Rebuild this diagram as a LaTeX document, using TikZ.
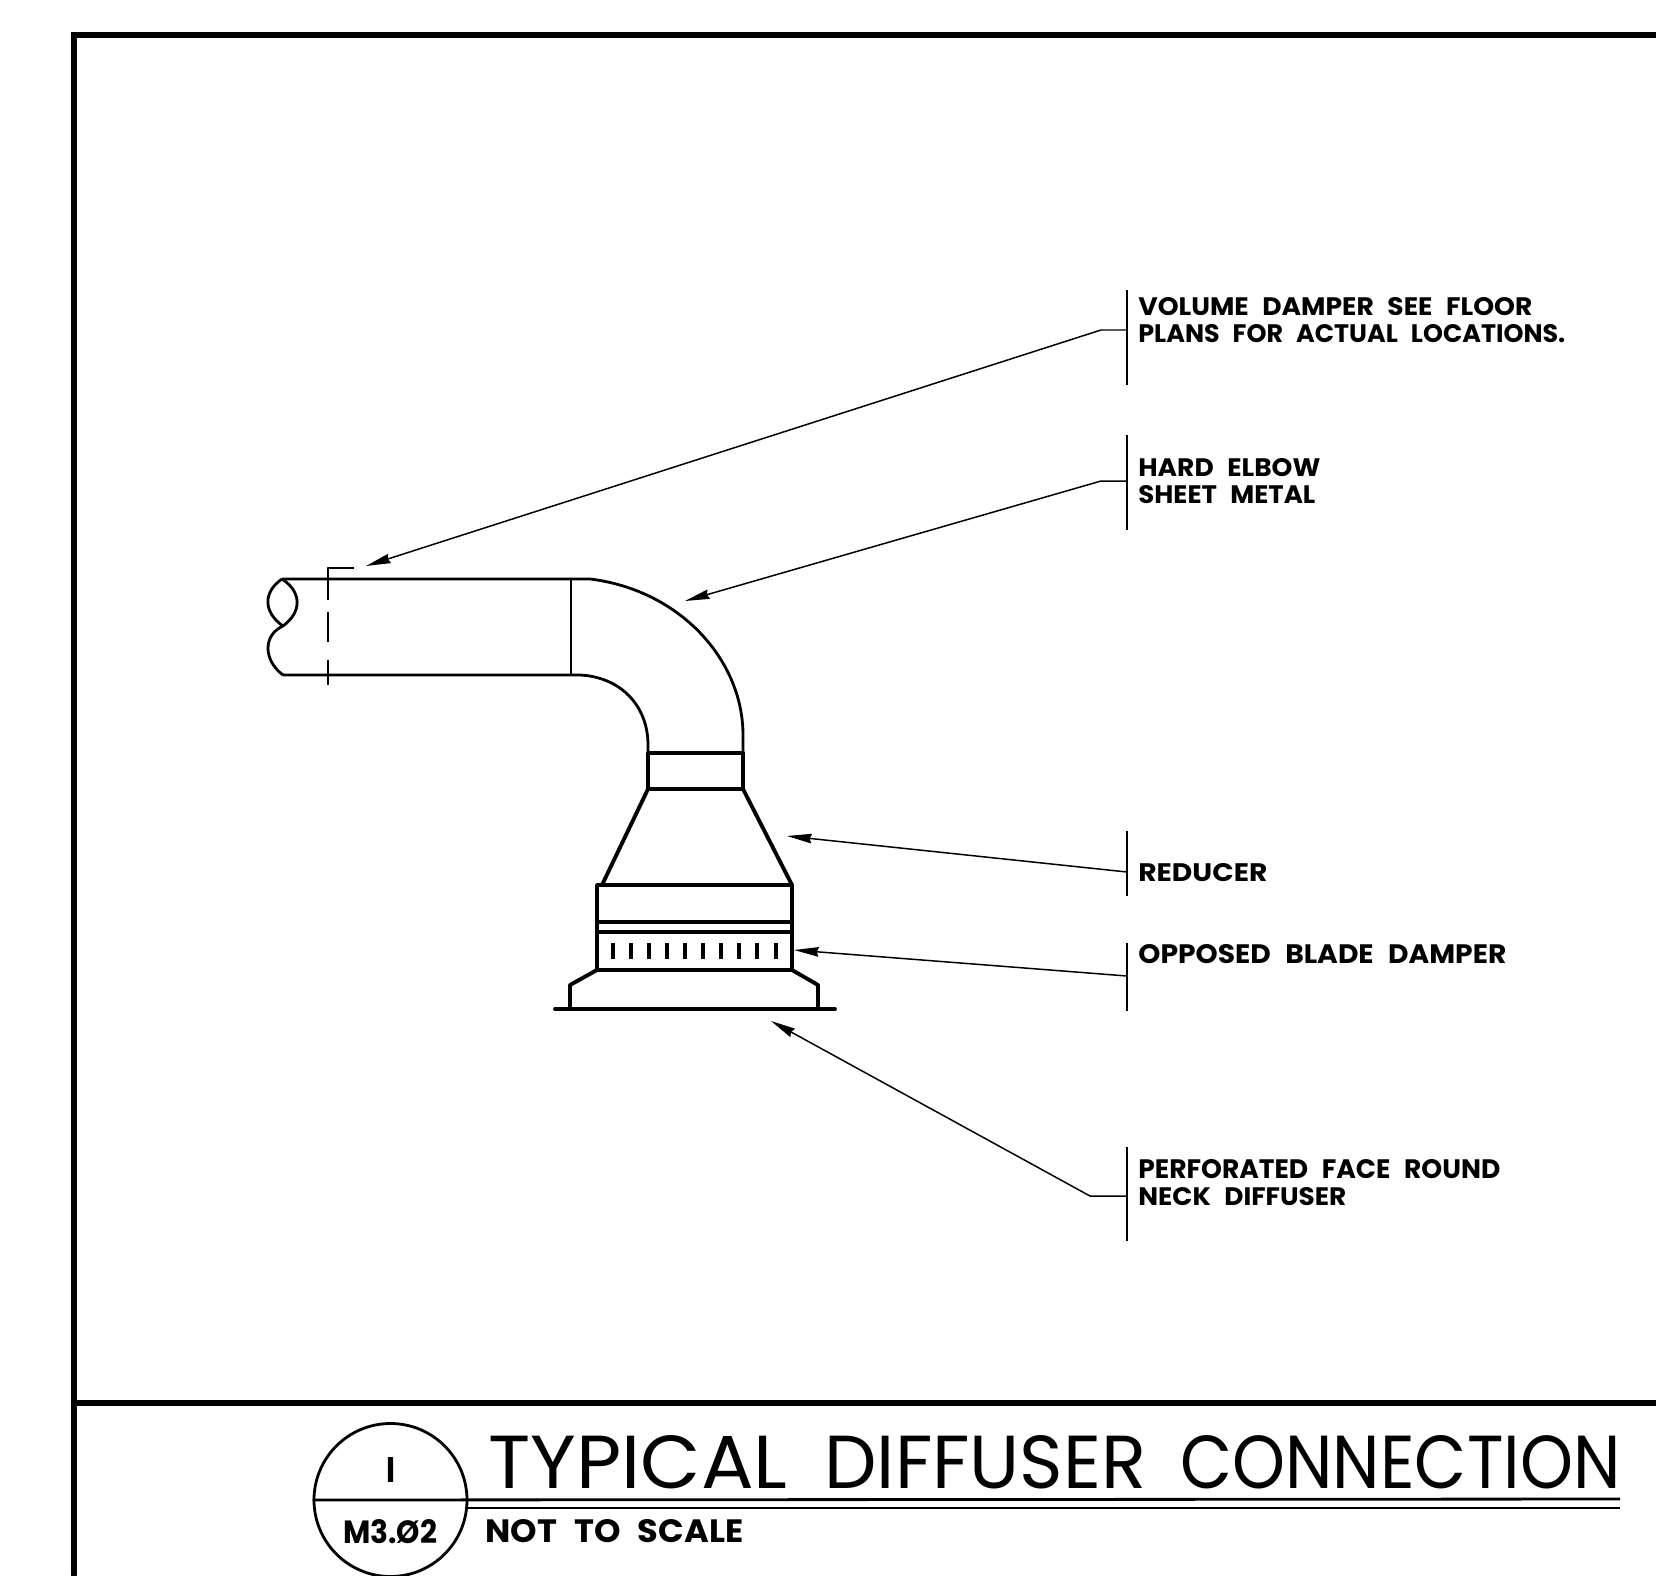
\documentclass[tikz,border=0pt]{standalone}
\usepackage{graphicx}
\usepackage{fontspec}
\setmainfont{Poppins}
\usetikzlibrary{arrows.meta}
\newlength\pxu
\setlength\pxu{0.02cm}
\newcommand{\fitline}[3]{\resizebox{#1\pxu}{#2\pxu}{#3}}
\newcommand{\wgap}{\hspace{0.3em}}
\tikzset{
  frameline/.style={line width=3pt,line cap=round},
  duct/.style={line width=1.6pt,line join=round},
  heavy/.style={line width=2.2pt,line join=round},
  thinline/.style={line width=0.9pt},
  leader/.style={line width=0.85pt,-{Stealth[length=14pt,width=5.4pt,inset=1pt]}},
  note/.style={anchor=north west,inner sep=0pt,align=left,font=\bfseries\fontsize{9.7pt}{15.4pt}\selectfont},
  plain/.style={inner sep=0pt}
}
\begin{document}
\begin{tikzpicture}[x=0.02cm,y=-0.02cm]
\useasboundingbox (0,0) rectangle (1656,1575);
\clip (0,0) rectangle (1656,1575);
% sheet frame
\coordinate (frameTR) at (1656,35);
\coordinate (frameTL) at (74,35);
\coordinate (frameBL) at (74,1575);
\coordinate (ruleL) at (74,1403);
\coordinate (ruleR) at (1656,1403);
\draw[frameline] (frameTR) -- (frameTL) -- (frameBL);
\draw[frameline] (ruleL) -- (ruleR);
% duct
\draw[duct] (282,579) -- (590,579) .. controls (680,590) and (743,660) .. (743,735) -- (743,753);
\draw[duct] (283,675) -- (580,675) .. controls (620,677) and (648,705) .. (648,745) -- (648,753);
\draw[duct] (282,579) .. controls (263,592) and (263,612) .. (283,626)
                      .. controls (302,612) and (302,592) .. (282,579);
\draw[duct] (283,626) .. controls (263,635) and (263,660) .. (283,675);
\draw[duct] (571,579) -- (571,675);
% volume damper
\draw[duct] (354,568) -- (328,568) -- (328,600);
\draw[duct] (328,612) -- (328,642);
\draw[duct] (328,660) -- (328,685);
% collar
\draw[heavy] (648,753) rectangle (743,789);
% reducer
\draw[heavy] (648,789) -- (602,885);
\draw[heavy] (743,789) -- (792,885);
% damper box
\draw[heavy] (597,885) rectangle (792,970);
\draw[heavy] (597,922) -- (792,922);
\draw[heavy] (597,932) -- (792,932);
\foreach \tx in {613,631,649,667,685,703,721,739,757,776}
  \draw[heavy] (\tx,943) -- (\tx,959);
% diffuser
\draw[heavy] (597,970) -- (570,985) -- (570,1009);
\draw[heavy] (792,970) -- (818,985) -- (818,1009);
\draw[heavy,line cap=round] (555,1009) -- (835,1009);
% notes
\node[note] (n1) at (1138,297) {\fitline{394}{18}{VOLUME\wgap{} DAMPER\wgap{} SEE\wgap{} FLOOR}\\\fitline{427}{18}{PLANS\wgap{} FOR\wgap{} ACTUAL\wgap{} LOCATIONS.}};
\node[note] (n2) at (1138,458) {\fitline{182}{18}{HARD\wgap{} ELBOW}\\\fitline{177}{18}{SHEET\wgap{} METAL}};
\node[note] (n3) at (1138,863) {\fitline{129}{18}{REDUCER}};
\node[note] (n4) at (1138,944) {\fitline{368}{19}{OPPOSED\wgap{} BLADE\wgap{} DAMPER}};
\node[note] (n5) at (1138,1159) {\fitline{362}{19}{PERFORATED\wgap{} FACE\wgap{} ROUND}\\\fitline{208}{18}{NECK\wgap{} DIFFUSER}};
% note bars
\coordinate (b1t) at (1127,290); \coordinate (b1b) at (1127,385);
\coordinate (b2t) at (1127,435); \coordinate (b2b) at (1127,530);
\coordinate (b3t) at (1127,831); \coordinate (b3b) at (1127,896);
\coordinate (b4t) at (1127,943); \coordinate (b4b) at (1127,1011);
\coordinate (b5t) at (1127,1147); \coordinate (b5b) at (1127,1241);
\foreach \k in {1,...,5} \draw[thinline] (b\k t) -- (b\k b);
% leaders
\coordinate (l1) at (1127,330); \coordinate (e1) at (1101,330); \coordinate (t1) at (366,566);
\coordinate (l2) at (1127,481); \coordinate (e2) at (1101,481); \coordinate (t2) at (685,601);
\coordinate (l3) at (1127,872); \coordinate (t3) at (787,836);
\coordinate (l4) at (1127,976); \coordinate (t4) at (794,950);
\coordinate (l5) at (1127,1196); \coordinate (e5) at (1090,1196); \coordinate (t5) at (771,1021);
\draw[leader] (l1) -- (e1) -- (t1);
\draw[leader] (l2) -- (e2) -- (t2);
\draw[leader] (l3) -- (t3);
\draw[leader] (l4) -- (t4);
\draw[leader] (l5) -- (e5) -- (t5);
% title block
\node[draw,circle,line width=1.6pt,minimum size=153\pxu,inner sep=0pt] (bubble) at (390.5,1500) {};
\draw[duct] (bubble.west) -- (1620,1499);
\draw[duct] (bubble.east |- 0,1508) -- (1620,1508);
\node[plain,font=\bfseries] (num) at (391,1470) {\fitline{9}{25}{I}};
\node[plain,font=\bfseries] (sheet) at (390,1532) {\fitline{94}{24}{M3.Ø2}};
\node[plain,anchor=north west] (title) at (488,1435) {\fitline{299}{53}{TYPICAL}\hspace{37\pxu}\fitline{322}{53}{DIFFUSER}\hspace{34\pxu}\fitline{440}{53}{CONNECTION}};
\node[plain,anchor=north west,font=\bfseries] (scale) at (485,1519) {\fitline{258}{23}{NOT\wgap{} TO\wgap{} SCALE}};
\end{tikzpicture}
\end{document}
